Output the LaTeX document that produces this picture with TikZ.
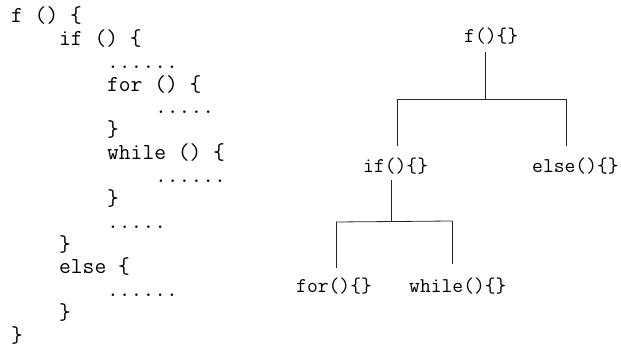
\documentclass[tikz,border=0pt]{standalone}
\usepackage{fontspec}
\begin{document}
\begin{tikzpicture}[x=1pt,y=-1pt,
  code/.style={anchor=base west,inner sep=0pt,font=\ttfamily\fontsize{22.86}{22.86}\selectfont},
  tnode/.style={anchor=base west,inner sep=0pt,font=\ttfamily\fontsize{21}{21}\selectfont},
  edge/.style={draw=black!85,line width=0.8pt}]
\useasboundingbox (0,0) rectangle (621,348);
% code listing
\def\lh{22.85}
\node[code] (c0)  at (11, 22.5+0*\lh) {f () \{};
\node[code] (c1)  at (59, 22.5+1*\lh) {if () \{};
\node[code] (c2)  at (107,22.5+2*\lh) {......};
\node[code] (c3)  at (107,22.5+3*\lh) {for () \{};
\node[code] (c4)  at (155,22.5+4*\lh) {.....};
\node[code] (c5)  at (107,22.5+5*\lh) {\}};
\node[code] (c6)  at (107,22.5+6*\lh) {while () \{};
\node[code] (c7)  at (155,22.5+7*\lh) {......};
\node[code] (c8)  at (107,22.5+8*\lh) {\}};
\node[code] (c9)  at (107,22.5+9*\lh) {.....};
\node[code] (c10) at (59, 22.5+10*\lh) {\}};
\node[code] (c11) at (59, 22.5+11*\lh) {else \{};
\node[code] (c12) at (107,22.5+12*\lh) {......};
\node[code] (c13) at (59, 22.5+13*\lh) {\}};
\node[code] (c14) at (11, 22.5+14*\lh) {\}};
% tree
\node[tnode] (f)     at (464,42)  {f()\{\}};
\node[tnode] (if)    at (363,172) {if()\{\}};
\node[tnode] (else)  at (532,172) {else()\{\}};
\node[tnode] (for)   at (296,292) {for()\{\}};
\node[tnode] (while) at (409,292) {while()\{\}};
% junction points
\coordinate (fs) at (485,52);
\coordinate (fj) at (485,99);
\coordinate (jl) at (397,99);
\coordinate (jr) at (566,99);
\coordinate (ift) at (397,146);
\coordinate (elt) at (566,146);
\coordinate (ifs) at (391,180);
\coordinate (ij) at (391,221.5);
\coordinate (il) at (336,222);
\coordinate (ir) at (452,221);
\coordinate (fot) at (336,268);
\coordinate (wht) at (452,264);
\draw[edge] (fs) -- (fj);
\draw[edge] (jl) -- (jr);
\draw[edge] (jl) -- (ift);
\draw[edge] (jr) -- (elt);
\draw[edge] (ifs) -- (ij);
\draw[edge] (il) -- (ir);
\draw[edge] (il) -- (fot);
\draw[edge] (ir) -- (wht);
\end{tikzpicture}
\end{document}
